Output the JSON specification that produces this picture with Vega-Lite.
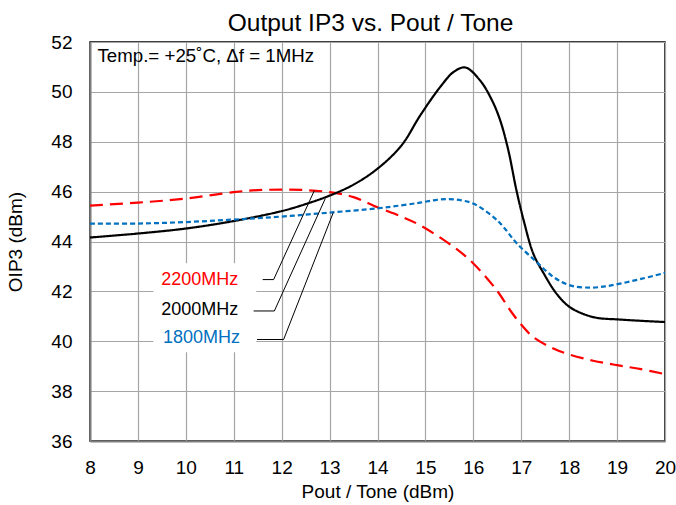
{
  "$schema": "https://vega.github.io/schema/vega-lite/v6.json",
  "width": 575,
  "height": 399,
  "autosize": {"type": "none"},
  "padding": {"left": 90, "top": 42, "right": 11, "bottom": 64},
  "background": "white",
  "config": {
    "font": "Liberation Sans",
    "view": {"stroke": "#000000", "strokeWidth": 1.5},
    "axis": {
      "grid": true,
      "gridColor": "#A6A6A6",
      "gridWidth": 1.2,
      "ticks": false,
      "domain": true,
      "domainColor": "#7F7F7F",
      "domainWidth": 2,
      "labelFont": "Liberation Sans",
      "labelFontSize": 19,
      "labelColor": "#000000",
      "titleFont": "Liberation Sans",
      "titleFontSize": 19,
      "titleFontWeight": "normal",
      "titleColor": "#000000"
    }
  },
  "title": {
    "text": "Output IP3 vs. Pout / Tone",
    "font": "Liberation Sans",
    "fontSize": 24.5,
    "fontWeight": "normal",
    "color": "#000000",
    "offset": 10,
    "dy": 13,
    "dx": -7
  },
  "datasets": {
    "curves": [
      {"series": "2200MHz", "x": 8, "y": 45.44},
      {"series": "2200MHz", "x": 9, "y": 45.56},
      {"series": "2200MHz", "x": 10, "y": 45.72},
      {"series": "2200MHz", "x": 11, "y": 45.98},
      {"series": "2200MHz", "x": 11.5, "y": 46.06},
      {"series": "2200MHz", "x": 12, "y": 46.08},
      {"series": "2200MHz", "x": 12.5, "y": 46.06},
      {"series": "2200MHz", "x": 13, "y": 45.98},
      {"series": "2200MHz", "x": 13.5, "y": 45.78},
      {"series": "2200MHz", "x": 14, "y": 45.37},
      {"series": "2200MHz", "x": 14.5, "y": 45.0},
      {"series": "2200MHz", "x": 14.89, "y": 44.65},
      {"series": "2200MHz", "x": 15.59, "y": 43.78},
      {"series": "2200MHz", "x": 16.0, "y": 43.12},
      {"series": "2200MHz", "x": 16.49, "y": 42.04},
      {"series": "2200MHz", "x": 16.77, "y": 41.24},
      {"series": "2200MHz", "x": 16.98, "y": 40.71},
      {"series": "2200MHz", "x": 17.25, "y": 40.17},
      {"series": "2200MHz", "x": 17.67, "y": 39.71},
      {"series": "2200MHz", "x": 18, "y": 39.47},
      {"series": "2200MHz", "x": 18.5, "y": 39.22},
      {"series": "2200MHz", "x": 19, "y": 39.04},
      {"series": "2200MHz", "x": 19.5, "y": 38.88},
      {"series": "2200MHz", "x": 20, "y": 38.68},

      {"series": "2000MHz", "x": 8, "y": 44.16},
      {"series": "2000MHz", "x": 9, "y": 44.32},
      {"series": "2000MHz", "x": 10, "y": 44.52},
      {"series": "2000MHz", "x": 11, "y": 44.82},
      {"series": "2000MHz", "x": 12, "y": 45.22},
      {"series": "2000MHz", "x": 12.5, "y": 45.5},
      {"series": "2000MHz", "x": 13, "y": 45.84},
      {"series": "2000MHz", "x": 13.5, "y": 46.28},
      {"series": "2000MHz", "x": 14, "y": 46.92},
      {"series": "2000MHz", "x": 14.5, "y": 47.85},
      {"series": "2000MHz", "x": 14.89, "y": 49.05},
      {"series": "2000MHz", "x": 15.31, "y": 50.2},
      {"series": "2000MHz", "x": 15.59, "y": 50.8},
      {"series": "2000MHz", "x": 15.83, "y": 50.98},
      {"series": "2000MHz", "x": 16.14, "y": 50.46},
      {"series": "2000MHz", "x": 16.39, "y": 49.66},
      {"series": "2000MHz", "x": 16.56, "y": 48.86},
      {"series": "2000MHz", "x": 16.73, "y": 47.66},
      {"series": "2000MHz", "x": 16.9, "y": 46.05},
      {"series": "2000MHz", "x": 17.05, "y": 44.85},
      {"series": "2000MHz", "x": 17.25, "y": 43.52},
      {"series": "2000MHz", "x": 17.46, "y": 42.75},
      {"series": "2000MHz", "x": 17.74, "y": 41.9},
      {"series": "2000MHz", "x": 18.02, "y": 41.36},
      {"series": "2000MHz", "x": 18.5, "y": 40.97},
      {"series": "2000MHz", "x": 19.06, "y": 40.87},
      {"series": "2000MHz", "x": 20, "y": 40.77},

      {"series": "1800MHz", "x": 8, "y": 44.72},
      {"series": "1800MHz", "x": 9, "y": 44.72},
      {"series": "1800MHz", "x": 10, "y": 44.78},
      {"series": "1800MHz", "x": 11, "y": 44.88},
      {"series": "1800MHz", "x": 12, "y": 45.0},
      {"series": "1800MHz", "x": 13, "y": 45.16},
      {"series": "1800MHz", "x": 14, "y": 45.33},
      {"series": "1800MHz", "x": 14.5, "y": 45.45},
      {"series": "1800MHz", "x": 14.89, "y": 45.56},
      {"series": "1800MHz", "x": 15.2, "y": 45.66},
      {"series": "1800MHz", "x": 15.48, "y": 45.7},
      {"series": "1800MHz", "x": 15.75, "y": 45.65},
      {"series": "1800MHz", "x": 16.0, "y": 45.52},
      {"series": "1800MHz", "x": 16.42, "y": 44.98},
      {"series": "1800MHz", "x": 16.63, "y": 44.58},
      {"series": "1800MHz", "x": 16.91, "y": 43.92},
      {"series": "1800MHz", "x": 17.32, "y": 43.18},
      {"series": "1800MHz", "x": 17.67, "y": 42.58},
      {"series": "1800MHz", "x": 18.02, "y": 42.24},
      {"series": "1800MHz", "x": 18.44, "y": 42.15},
      {"series": "1800MHz", "x": 18.75, "y": 42.2},
      {"series": "1800MHz", "x": 19.06, "y": 42.31},
      {"series": "1800MHz", "x": 19.5, "y": 42.5},
      {"series": "1800MHz", "x": 20, "y": 42.74}
    ],
    "box": [
      {"x1": 9.324, "x2": 11.47, "y1": 43.13, "y2": 39.56}
    ],
    "labels": [
      {"series": "2200MHz", "x": 11.096, "y": 42.47},
      {"series": "2000MHz", "x": 11.096, "y": 41.27},
      {"series": "1800MHz", "x": 11.13, "y": 40.15}
    ],
    "leaders": [
      {"id": "2200MHz", "k": 1, "x": 11.603, "y": 42.473},
      {"id": "2200MHz", "k": 2, "x": 11.832, "y": 42.473},
      {"id": "2200MHz", "k": 3, "x": 12.681, "y": 46.04},
      {"id": "2000MHz", "k": 1, "x": 11.415, "y": 41.214},
      {"id": "2000MHz", "k": 2, "x": 11.847, "y": 41.214},
      {"id": "2000MHz", "k": 3, "x": 12.91, "y": 45.72},
      {"id": "1800MHz", "k": 1, "x": 11.486, "y": 40.07},
      {"id": "1800MHz", "k": 2, "x": 12.041, "y": 40.07},
      {"id": "1800MHz", "k": 3, "x": 13.077, "y": 45.16}
    ],
    "note": [
      {"x": 8.156, "y": 51.43, "text": "Temp.= +25˚C, Δf = 1MHz"}
    ]
  },
  "encoding": {
    "x": {
      "field": "x",
      "type": "quantitative",
      "scale": {"domain": [8, 20], "nice": false, "zero": false},
      "axis": {
        "values": [8, 9, 10, 11, 12, 13, 14, 15, 16, 17, 18, 19, 20],
        "title": "Pout / Tone (dBm)",
        "labelPadding": 17,
        "titlePadding": 5,
        "labelFlush": false
      }
    },
    "y": {
      "field": "y",
      "type": "quantitative",
      "scale": {"domain": [36, 52], "nice": false, "zero": false},
      "axis": {
        "values": [36, 38, 40, 42, 44, 46, 48, 50, 52],
        "title": "OIP3 (dBm)",
        "labelPadding": 18,
        "titlePadding": 25,
        "labelFlush": false
      }
    }
  },
  "layer": [
    {
      "data": {"name": "box"},
      "mark": {"type": "rect", "fill": "white", "stroke": null},
      "encoding": {
        "x": {"field": "x1", "type": "quantitative"},
        "x2": {"field": "x2"},
        "y": {"field": "y1", "type": "quantitative"},
        "y2": {"field": "y2"}
      }
    },
    {
      "data": {"name": "curves"},
      "mark": {"type": "line", "interpolate": "catmull-rom", "strokeWidth": 2.2, "clip": true},
      "encoding": {
        "color": {
          "field": "series",
          "type": "nominal",
          "scale": {"domain": ["2200MHz", "2000MHz", "1800MHz"], "range": ["#FF0000", "#000000", "#0070C0"]},
          "legend": null
        },
        "strokeDash": {
          "field": "series",
          "type": "nominal",
          "scale": {"domain": ["2200MHz", "2000MHz", "1800MHz"], "range": [[13, 7], [1, 0], [5, 3]]},
          "legend": null
        }
      }
    },
    {
      "data": {"name": "leaders"},
      "mark": {"type": "line", "color": "#000000", "strokeWidth": 1},
      "encoding": {
        "detail": {"field": "id"},
        "order": {"field": "k", "type": "quantitative"}
      }
    },
    {
      "data": {"name": "labels"},
      "mark": {"type": "text", "align": "right", "baseline": "middle", "fontSize": 18, "font": "Liberation Sans"},
      "encoding": {
        "text": {"field": "series"},
        "color": {
          "field": "series",
          "type": "nominal",
          "scale": {"domain": ["2200MHz", "2000MHz", "1800MHz"], "range": ["#FF0000", "#000000", "#0070C0"]},
          "legend": null
        }
      }
    },
    {
      "data": {"name": "note"},
      "mark": {"type": "text", "align": "left", "baseline": "middle", "fontSize": 18.7, "font": "Liberation Sans", "color": "#000000"},
      "encoding": {
        "text": {"field": "text"}
      }
    }
  ]
}
